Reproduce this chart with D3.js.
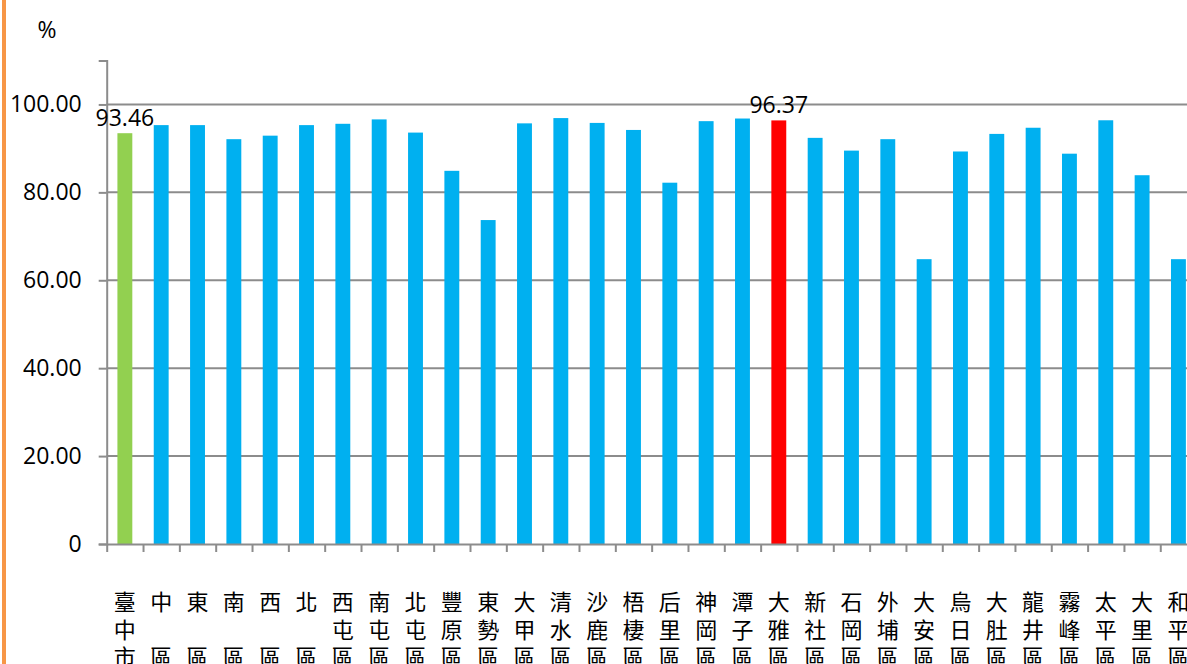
<!DOCTYPE html>
<html>
<head>
<meta charset="utf-8">
<script src="https://cdn.jsdelivr.net/npm/d3@7"></script>
<style>
  body { margin: 0; background: #fff; }
  svg { display: block; }
  text { fill: #000; }
</style>
</head>
<body>
<div id="chart"></div>
<script>
// district names, one array entry per char line ("" = empty line)
const districts = [
  ["臺", "中", "市"], ["中", "", "區"], ["東", "", "區"], ["南", "", "區"], ["西", "", "區"],
  ["北", "", "區"], ["西", "屯", "區"], ["南", "屯", "區"], ["北", "屯", "區"], ["豐", "原", "區"],
  ["東", "勢", "區"], ["大", "甲", "區"], ["清", "水", "區"], ["沙", "鹿", "區"], ["梧", "棲", "區"],
  ["后", "里", "區"], ["神", "岡", "區"], ["潭", "子", "區"], ["大", "雅", "區"], ["新", "社", "區"],
  ["石", "岡", "區"], ["外", "埔", "區"], ["大", "安", "區"], ["烏", "日", "區"], ["大", "肚", "區"],
  ["龍", "井", "區"], ["霧", "峰", "區"], ["太", "平", "區"], ["大", "里", "區"], ["和", "平", "區"]
];

// percentage values
const values = [
  93.46, 95.3, 95.3, 92.1, 92.9, 95.3, 95.6, 96.6, 93.6, 84.9,
  73.7, 95.7, 96.9, 95.8, 94.2, 82.2, 96.2, 96.8, 96.37, 92.4,
  89.5, 92.1, 64.8, 89.3, 93.3, 94.7, 88.8, 96.4, 83.9, 64.8
];

// which bars get a value label
const labelled = [0, 18];

const yTicks = [0, 20, 40, 60, 80, 100];

const width = 1187, height = 664;
const left = 106.7, step = 36.33, bottom = 544;

const svg = d3.select("#chart").append("svg")
  .attr("width", width)
  .attr("height", height)
  .style("font-family", "'Open Sans', sans-serif");

const names = districts.map(d => d.join(""));

const x = d3.scaleBand()
  .domain(names)
  .range([left, left + step * names.length])
  .padding(0);

const y = d3.scaleLinear()
  .domain([0, 110])
  .range([bottom, 60.5]);

// orange frame line on the left
svg.append("line")
  .attr("x1", 4).attr("x2", 4)
  .attr("y1", 0).attr("y2", height)
  .attr("stroke", "#F79646")
  .attr("stroke-width", 4);

// gridlines
svg.append("g")
  .selectAll("line")
  .data(yTicks.filter(d => d > 0))
  .enter().append("line")
  .attr("x1", left).attr("x2", width)
  .attr("y1", d => y(d)).attr("y2", d => y(d))
  .attr("stroke", "#8c8c8c")
  .attr("stroke-width", 2);

// bars
svg.append("g")
  .selectAll("rect")
  .data(values)
  .enter().append("rect")
  .attr("x", (d, i) => x(names[i]) + x.bandwidth() * 0.295)
  .attr("width", x.bandwidth() * 0.41)
  .attr("y", d => y(d))
  .attr("height", d => bottom - y(d))
  .attr("fill", (d, i) => i === 0 ? "#92D050" : (i === 18 ? "#FF0000" : "#00B0F0"));

// y axis
const yAxis = svg.append("g")
  .attr("transform", `translate(${left},0)`)
  .call(d3.axisLeft(y)
    .tickValues(yTicks)
    .tickSize(8)
    .tickPadding(17)
    .tickFormat(d => d === 0 ? "0" : d3.format(".2f")(d)));
yAxis.select(".domain").attr("stroke", "#8c8c8c").attr("stroke-width", 2);
yAxis.selectAll(".tick line").attr("stroke", "#8c8c8c").attr("stroke-width", 2);
yAxis.selectAll(".tick text")
  .style("font-family", "'Open Sans', sans-serif")
  .style("font-size", "23px")
  .attr("fill", "#000");

// x axis, ticks between categories
const xi = d3.scaleLinear().domain([0, names.length]).range(x.range());
const xAxis = svg.append("g")
  .attr("transform", `translate(0,${bottom})`)
  .call(d3.axisBottom(xi)
    .tickValues(d3.range(names.length + 1))
    .tickSize(8)
    .tickSizeOuter(0)
    .tickFormat(""));
xAxis.select(".domain").attr("stroke", "#8c8c8c").attr("stroke-width", 2);
xAxis.selectAll(".tick line").attr("stroke", "#8c8c8c").attr("stroke-width", 2);

// vertical category labels
const labels = svg.append("g")
  .selectAll("text")
  .data(districts)
  .enter().append("text")
  .attr("text-anchor", "middle")
  .style("font-family", "'Noto Sans CJK TC', sans-serif")
  .style("font-size", "22px");
labels.each(function(chars, i) {
  const t = d3.select(this);
  chars.forEach((c, k) => {
    t.append("tspan")
      .attr("x", x(names[i]) + x.bandwidth() / 2)
      .attr("y", 610 + k * 27.5)
      .text(c);
  });
});

// value labels
svg.append("g")
  .selectAll("text")
  .data(labelled)
  .enter().append("text")
  .attr("x", i => x(names[i]) + x.bandwidth() / 2)
  .attr("y", i => y(values[i]) - 7)
  .attr("text-anchor", "middle")
  .style("font-size", "23px")
  .text(i => d3.format(".2f")(values[i]));

// unit
svg.append("text")
  .attr("x", 47)
  .attr("y", 38)
  .attr("text-anchor", "middle")
  .style("font-size", "23px")
  .text("%");
</script>
</body>
</html>
